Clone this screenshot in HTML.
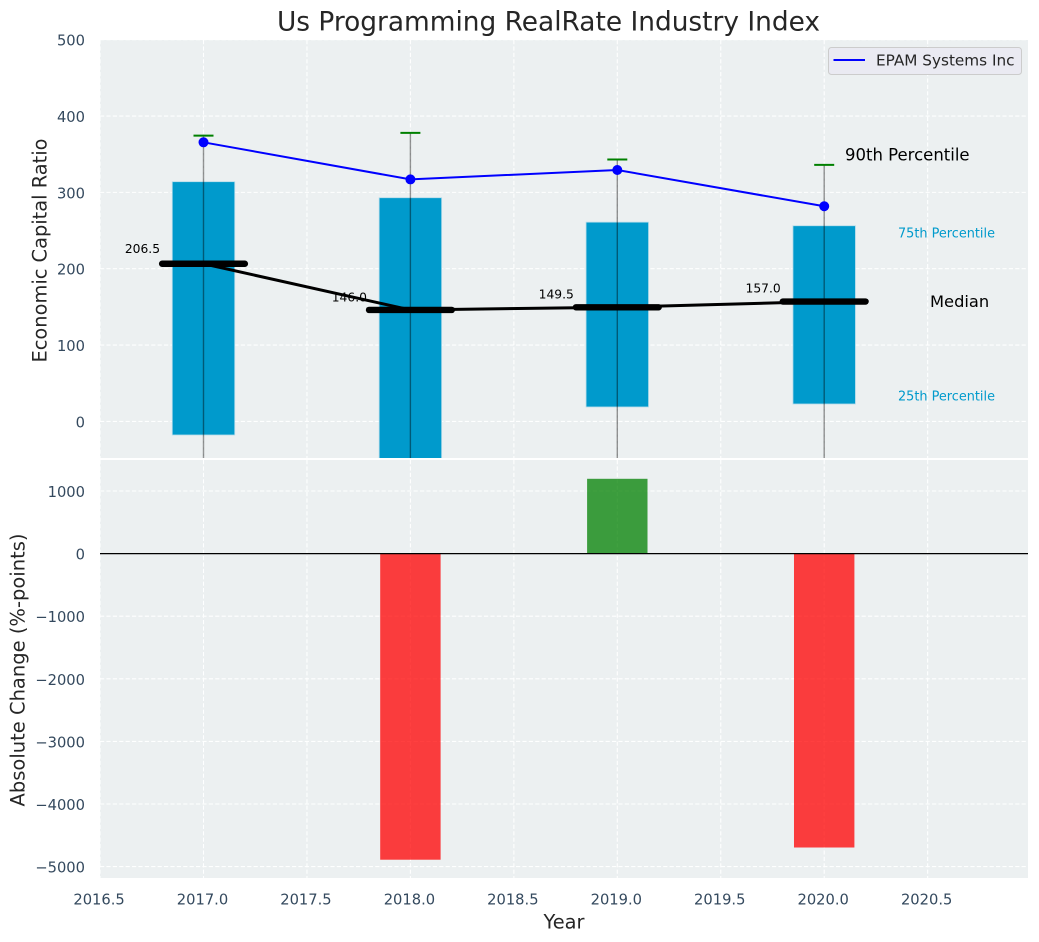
<!DOCTYPE html>
<html>
<head>
<meta charset="utf-8">
<title>Us Programming RealRate Industry Index</title>
<style>
html,body{margin:0;padding:0;background:#fff;width:1039px;height:942px;overflow:hidden}
svg{display:block}
text{font-family:"DejaVu Sans","Liberation Sans",sans-serif}
</style>
</head>
<body>
<svg id="chart" width="1039" height="942" viewBox="0 0 1039 942" xmlns="http://www.w3.org/2000/svg"></svg>
<script>
const years = [2017, 2018, 2019, 2020];
const q75 = [314, 293, 261, 256.3];
const q25 = [-17.8, -100, 18.9, 22.8];
const p90 = [374.3, 378, 343, 336];
const p10 = [-150, -200, -120, -110];
const medians = [206.5, 146, 149.5, 157];
const medianLabels = ["206.5", "146.0", "149.5", "157.0"];
const medianLabelLift = [19.5, 16, 16.5, 17];
const company = [365.6, 317, 329.3, 281.8];
const changes = [null, -4890, 1195, -4695];
const xTicks = [2016.5, 2017, 2017.5, 2018, 2018.5, 2019, 2019.5, 2020, 2020.5];
const xTickLabels = ["2016.5", "2017.0", "2017.5", "2018.0", "2018.5", "2019.0", "2019.5", "2020.0", "2020.5"];
const topTicks = [500, 400, 300, 200, 100, 0];
const topTickLabels = ["500", "400", "300", "200", "100", "0"];
const bottomTicks = [1000, 0, -1000, -2000, -3000, -4000, -5000];
const bottomTickLabels = ["1000", "0", "\u22121000", "\u22122000", "\u22123000", "\u22124000", "\u22125000"];

const NS = 'http://www.w3.org/2000/svg';
const svg = document.getElementById('chart');
const L = 100, R = 1028, T1 = 40, B1 = 458, T2 = 460, B2 = 878;
const X = v => 203.5 + (v - 2017) * 206.9;
const Y1 = v => 421.4 - v * 0.7634;
const Y2 = v => 553.6 - v * 0.0626;

function mk(parent, tag, attrs, text) {
  const el = document.createElementNS(NS, tag);
  for (const k in attrs) el.setAttribute(k, attrs[k]);
  if (text !== undefined) el.textContent = text;
  parent.appendChild(el);
  return el;
}
function group(name) {
  const g = document.createElementNS(NS, 'g');
  
  
  svg.appendChild(g);
  return g;
}
const defs = mk(svg, 'defs', {});
const c1 = mk(defs, 'clipPath', {id: 'clipTop'});
mk(c1, 'rect', {x: L, y: T1, width: R - L, height: B1 - T1});
const c2 = mk(defs, 'clipPath', {id: 'clipBottom'});
mk(c2, 'rect', {x: L, y: T2, width: R - L, height: B2 - T2});

const bgTop = mk(svg, 'rect', {x: L, y: T1, width: R - L, height: B1 - T1, fill: '#ecf0f1'});


const bgBottom = mk(svg, 'rect', {x: L, y: T2, width: R - L, height: B2 - T2, fill: '#ecf0f1'});



/* grid */
const gridG = group('grid-lines');
const gridStyle = {stroke: '#ffffff', 'stroke-width': 1.1, 'stroke-dasharray': '4.2 2.2', 'stroke-opacity': 0.95};
xTicks.forEach(v => {
  mk(gridG, 'line', Object.assign({x1: X(v), x2: X(v), y1: T1, y2: B1}, gridStyle));
  mk(gridG, 'line', Object.assign({x1: X(v), x2: X(v), y1: T2, y2: B2}, gridStyle));
});
topTicks.forEach(v => mk(gridG, 'line', Object.assign({x1: L, x2: R, y1: Y1(v), y2: Y1(v)}, gridStyle)));
bottomTicks.forEach(v => mk(gridG, 'line', Object.assign({x1: L, x2: R, y1: Y2(v), y2: Y2(v)}, gridStyle)));

/* top panel */
const topG = group('top-panel-series');
topG.setAttribute('clip-path', 'url(#clipTop)');
const halfBox = 0.151;
years.forEach((yr, i) => {
  const box = mk(topG, 'rect', {
    x: X(yr - halfBox), width: X(yr + halfBox) - X(yr - halfBox),
    y: Y1(q75[i]), height: Y1(q25[i]) - Y1(q75[i]),
    fill: '#009acc', stroke: '#b5dcea', 'stroke-width': 0.8
  });
  
  
});
years.forEach((yr, i) => {
  const w = mk(topG, 'line', {x1: X(yr), x2: X(yr), y1: Y1(p90[i]), y2: Y1(p10[i]), stroke: '#000', 'stroke-opacity': 0.42, 'stroke-width': 1.4});
  
  
  const cap = mk(topG, 'line', {x1: X(yr) - 10, x2: X(yr) + 10, y1: Y1(p90[i]), y2: Y1(p90[i]), stroke: '#008000', 'stroke-width': 2});
  
  
});
const medianLine = mk(topG, 'polyline', {
  points: years.map((yr, i) => X(yr) + ',' + Y1(medians[i])).join(' '),
  fill: 'none', stroke: '#000', 'stroke-width': 3
});


years.forEach((yr, i) => {
  const m = mk(topG, 'line', {x1: X(yr - 0.2), x2: X(yr + 0.2), y1: Y1(medians[i]), y2: Y1(medians[i]), stroke: '#000', 'stroke-width': 6.4, 'stroke-linecap': 'round'});
  
  
});
const companyLine = mk(topG, 'polyline', {
  points: years.map((yr, i) => X(yr) + ',' + Y1(company[i])).join(' '),
  fill: 'none', stroke: '#0000ff', 'stroke-width': 2
});


years.forEach((yr, i) => {
  const p = mk(topG, 'circle', {cx: X(yr), cy: Y1(company[i]), r: 5, fill: '#0000ff'});
  
  
});
const medLabelG = group('median-value-labels');
years.forEach((yr, i) => {
  const t = mk(medLabelG, 'text', {x: X(yr - 0.21), y: Y1(medians[i] + medianLabelLift[i]), 'text-anchor': 'end', 'dominant-baseline': 'central', 'font-size': 12.3, fill: '#000'}, medianLabels[i]);
  
  
});

/* annotations */
function note(name, x, y, s, size, fill) {
  const t = mk(svg, 'text', {x: x, y: y, 'dominant-baseline': 'central', 'font-size': size, fill: fill}, s);
  
  
}
note('p90-annotation', 845, 155, '90th Percentile', 16.5, '#000');
note('p75-annotation', 898, 234, '75th Percentile', 12.85, '#009acc');
note('median-annotation', 930, 301.5, 'Median', 16.3, '#000');
note('p25-annotation', 898, 397, '25th Percentile', 12.85, '#009acc');

/* bottom panel */
const botG = group('bottom-panel-series');
botG.setAttribute('clip-path', 'url(#clipBottom)');
const halfBar = 0.146;
years.forEach((yr, i) => {
  if (changes[i] === null) return;
  const v = changes[i];
  const r = mk(botG, 'rect', {
    x: X(yr - halfBar), width: X(yr + halfBar) - X(yr - halfBar),
    y: Math.min(Y2(v), Y2(0)), height: Math.abs(Y2(v) - Y2(0)),
    fill: v < 0 ? '#ff0000' : '#008000', 'fill-opacity': 0.75
  });
  
  
});
const zero = mk(svg, 'line', {x1: L, x2: R, y1: Y2(0), y2: Y2(0), stroke: '#000', 'stroke-width': 1.3});



/* tick labels */
const tickColor = '#34495e';
const xTickG = group('x-axis-tick-labels');
xTicks.forEach((v, i) => mk(xTickG, 'text', {x: X(v) - 1, y: 900, 'text-anchor': 'middle', 'dominant-baseline': 'central', 'font-size': 14.7, fill: tickColor}, xTickLabels[i]));
const topTickG = group('top-y-axis-tick-labels');
topTicks.forEach((v, i) => mk(topTickG, 'text', {x: 85, y: Y1(v) + 1.5, 'text-anchor': 'end', 'dominant-baseline': 'central', 'font-size': 14.7, fill: tickColor}, topTickLabels[i]));
const botTickG = group('bottom-y-axis-tick-labels');
bottomTicks.forEach((v, i) => mk(botTickG, 'text', {x: 85, y: Y2(v) + 1.5, 'text-anchor': 'end', 'dominant-baseline': 'central', 'font-size': 14.7, fill: tickColor}, bottomTickLabels[i]));

/* titles */
const title = mk(svg, 'text', {x: 548.5, y: 22, 'text-anchor': 'middle', 'dominant-baseline': 'central', 'font-size': 26.4, fill: '#262626'}, 'Us Programming RealRate Industry Index');


const xTitle = mk(svg, 'text', {x: 564, y: 922, 'text-anchor': 'middle', 'dominant-baseline': 'central', 'font-size': 19.4, fill: '#262626'}, 'Year');


const yTop = mk(svg, 'text', {x: 0, y: 0, transform: 'translate(40,250.5) rotate(-90)', 'text-anchor': 'middle', 'dominant-baseline': 'central', 'font-size': 19.4, fill: '#262626'}, 'Economic Capital Ratio');


const yBot = mk(svg, 'text', {x: 0, y: 0, transform: 'translate(18,670) rotate(-90)', 'text-anchor': 'middle', 'dominant-baseline': 'central', 'font-size': 19.5, fill: '#262626'}, 'Absolute Change (%-points)');



/* legend */
const legend = group('legend');
mk(legend, 'rect', {x: 828.5, y: 47.5, width: 193, height: 27, rx: 3, fill: '#eaeaf2', stroke: '#cccccc', 'stroke-width': 1});
mk(legend, 'line', {x1: 833.5, x2: 865, y1: 60, y2: 60, stroke: '#0000ff', 'stroke-width': 2});
mk(legend, 'text', {x: 876, y: 60.5, 'dominant-baseline': 'central', 'font-size': 15.25, fill: '#262626'}, 'EPAM Systems Inc');
</script>
</body>
</html>
